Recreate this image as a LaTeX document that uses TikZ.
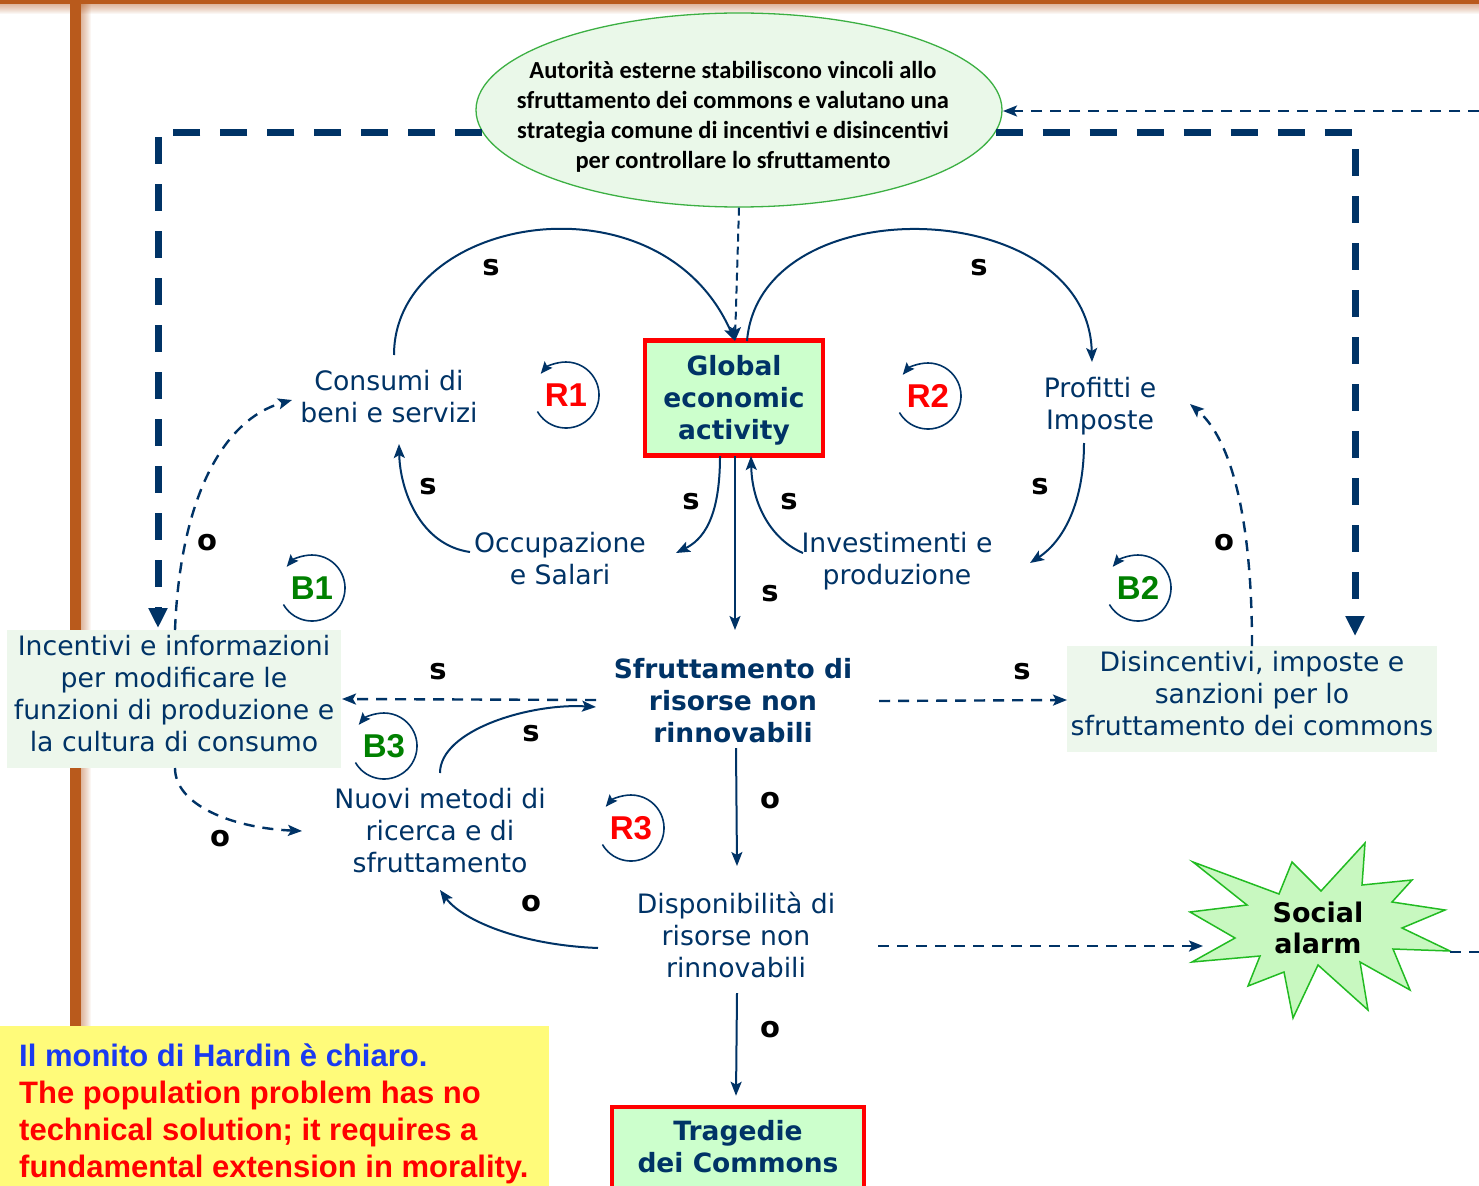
\documentclass[tikz,border=0pt]{standalone}
\usepackage{fontspec}
\setmainfont{DejaVu Sans}
\newfontfamily\ellfont{Carlito}
\newfontfamily\arialfont{Liberation Sans}
\usetikzlibrary{arrows.meta,shapes.geometric}

\definecolor{navy}{HTML}{003366}
\definecolor{barcol}{HTML}{B95A1C}
\definecolor{boxgreen}{HTML}{CCFFCC}
\definecolor{palegreen}{HTML}{EDF7EC}
\definecolor{ellfill}{HTML}{EAF8E9}
\definecolor{ellline}{HTML}{3CB043}
\definecolor{loopgreen}{HTML}{008000}
\definecolor{starfill}{HTML}{C8F8C0}
\definecolor{starline}{HTML}{22BB22}
\definecolor{notebg}{HTML}{FFFB7A}
\definecolor{noteblue}{HTML}{1A3AF0}

\tikzset{
  lbl/.style={text=navy, align=center, inner sep=0pt, font=\fontsize{26.7}{32}\selectfont},
  blbl/.style={text=navy, align=center, inner sep=0pt, font=\fontsize{26.5}{32}\selectfont\bfseries},
  pol/.style={inner sep=0pt, text=black, font=\fontsize{29}{29}\selectfont\bfseries},
  loopname/.style={inner sep=0pt, font=\arialfont\bfseries\fontsize{33}{33}\selectfont},
  tip/.style={-{Stealth[length=14pt,width=11pt,inset=3pt]}},
  conn/.style={draw=navy, line width=2pt, tip},
  dconn/.style={draw=navy, line width=2.4pt, dash pattern=on 11pt off 8pt, tip},
  bigdash/.style={draw=navy, line width=7pt, dash pattern=on 27pt off 20pt,
    -{Triangle[length=20pt,width=18pt]}},
  redbox/.style={draw=red, line width=4.5pt, fill=boxgreen},
  greybox/.style={fill=palegreen, inner sep=0pt},
}

% loop marker: name, centre, text, colour
\newcommand\loopmark[4]{%
  \node[loopname, text=#4] (#1) at (#2) {#3};
  \draw[navy, line width=1.6pt, -{Stealth[length=12pt,width=10pt,inset=2pt]}]
    ([shift={(210:33pt)}]#1.center) arc[start angle=210, end angle=500, radius=33pt];
}

\begin{document}
\begin{tikzpicture}[x=1pt,y=-1pt]
\useasboundingbox (0,0) rectangle (1479,1185);
\clip (0,0) rectangle (1479,1185);
\fill[white] (0,0) rectangle (1479,1185);

% frame bars with soft shadow
\foreach \i in {1,...,10}{
  \fill[barcol, opacity=0.05] (0,4) rectangle (1479,4+\i);
  \fill[barcol, opacity=0.05] (81,4) rectangle (81+\i,1026);
}
\fill[barcol] (0,0) rectangle (1479,4);
\fill[barcol] (70,0) rectangle (81,1030);

% top ellipse
\node[ellipse, draw=ellline, line width=1.3pt, fill=ellfill,
      minimum width=526pt, minimum height=194pt] (ell) at (739,110) {};
\node[inner sep=0pt, align=center, font=\ellfont\bfseries\fontsize{24.5}{30}\selectfont] (elltxt) at (733,116.5)
  {Autorità esterne stabiliscono vincoli allo\\sfruttamento dei commons e valutano una\\strategia comune di incentivi e disincentivi\\per controllare lo sfruttamento};

% central box
\node[redbox, minimum width=178pt, minimum height=115pt] (gea) at (734,398) {};
\node[blbl] at (734,400.5) {Global\\economic\\activity};

% variable labels
\node[lbl] (cons) at (389,397) {Consumi di\\beni e servizi};
\node[lbl] (prof) at (1100,406) {Profitti e\\Imposte};
\node[lbl] (occ) at (560,558.5) {Occupazione\\e Salari};
\node[lbl] (inv) at (897,561.5) {Investimenti e\\produzione};
\node[blbl] (sfr) at (733,701) {Sfruttamento di\\risorse non\\rinnovabili};
\node[lbl] (disp) at (736,935) {Disponibilità di\\risorse non\\rinnovabili};
\node[lbl] (nuovi) at (440,831) {Nuovi metodi di\\ricerca e di\\sfruttamento};

\node[greybox, minimum width=334pt, minimum height=138pt] (inc) at (174,699) {};
\node[lbl] at (174,694) {Incentivi e informazioni\\per modificare le\\funzioni di produzione e\\la cultura di consumo};
\node[greybox, minimum width=370pt, minimum height=106pt] (dis) at (1252,699) {};
\node[lbl] at (1252,694) {Disincentivi, imposte e\\sanzioni per lo\\sfruttamento dei commons};

\node[redbox, minimum width=252pt, minimum height=100pt] (trag) at (738,1157) {};
\node[blbl] at (738,1146.5) {Tragedie\\dei Commons};

% social alarm burst
\draw[starline, line width=1.5pt, fill=starfill]
  (1193,862) -- (1279,894) -- (1292,862) -- (1321,891) -- (1365,843) -- (1362,885)
  -- (1412,880) -- (1392,902) -- (1445,910) -- (1402,928) -- (1450,951) -- (1393,949)
  -- (1410,990) -- (1360,962) -- (1368,1010) -- (1318,965) -- (1293,1018) -- (1284,972)
  -- (1248,986) -- (1260,956) -- (1192,962) -- (1235,938) -- (1190,912) -- (1247,905) -- cycle;
\node[inner sep=0pt, align=center, text=black, font=\fontsize{27}{31}\selectfont\bfseries] (soc) at (1318,928) {Social\\alarm};

% external authority links
\draw[bigdash] (ell.185) -| ([shift={(-16,-71)}]inc.center);
\draw[bigdash] (ell.-5) -| ([shift={(103,-63)}]dis.center);
\coordinate (rin) at (1479,111);
\draw[dconn] (rin) -- ([shift={(264,1)}]ell.center);
\draw[draw=navy, line width=2pt, dash pattern=on 8pt off 5pt, tip] (ell.south) -- ([shift={(1,-57)}]gea.center);

% reinforcing loops R1, R2
\draw[conn] ([shift={(5,-42)}]cons.center) .. controls (394,215) and (660,170) .. ([shift={(1,-57)}]gea.center);
\draw[conn] ([shift={(13,-57)}]gea.center) .. controls (760,185) and (1088,195) .. ([shift={(-8,-44)}]prof.center);
\draw[conn] ([shift={(-14,58)}]gea.center) .. controls (720,520) and (702,540) .. ([shift={(116,-5.5)}]occ.center);
\draw[conn] ([shift={(-94,-8.5)}]inv.center) .. controls (772,540) and (752,505) .. ([shift={(17,58)}]gea.center);
\draw[conn] ([shift={(-90,-6.5)}]occ.center) .. controls (420,545) and (400,490) .. ([shift={(10,47)}]cons.center);
\draw[conn] ([shift={(-16,37)}]prof.center) .. controls (1084,500) and (1065,540) .. ([shift={(133,1.5)}]inv.center);

% main chain
\draw[conn] ([shift={(1,58)}]gea.center) -- ([shift={(2,-71)}]sfr.center);
\draw[conn] ([shift={(3,47)}]sfr.center) -- ([shift={(1,-69)}]disp.center);
\draw[conn] ([shift={(1,58)}]disp.center) -- ([shift={(-2,-9)}]trag.north);

% R3
\draw[conn] ([shift={(-138,13)}]disp.center) .. controls (520,945) and (462,920) .. ([shift={(0,59)}]nuovi.center);
\draw[conn] ([shift={(0,-58)}]nuovi.center) .. controls (440,730) and (530,703) .. ([shift={(-137,6)}]sfr.center);

% policy links
\draw[dconn] ([shift={(-137,-1)}]sfr.center) -- ([shift={(168,0)}]inc.center);
\draw[dconn] ([shift={(146,0)}]sfr.center) -- ([shift={(-185,1)}]dis.center);
\draw[dconn] ([shift={(1,-69)}]inc.center) .. controls (180,500) and (222,420) .. ([shift={(-97,3)}]cons.center);
\draw[dconn] ([shift={(1,69)}]inc.center) .. controls (175,805) and (232,828) .. ([shift={(-138,0)}]nuovi.center);
\draw[dconn] ([shift={(0,-53)}]dis.center) .. controls (1252,520) and (1232,440) .. ([shift={(90,-2)}]prof.center);
\draw[dconn] ([shift={(142,11)}]disp.center) -- ([shift={(-115,18)}]soc.center);
\coordinate (redge) at (1479,952);
\draw[draw=navy, line width=2.4pt, dash pattern=on 11pt off 8pt] ([shift={(132,24)}]soc.center) -- (redge);

% polarities
\node[pol] at (491,268) {s};
\node[pol] at (979,268) {s};
\node[pol] at (428,487) {s};
\node[pol] at (691,502) {s};
\node[pol] at (789,502) {s};
\node[pol] at (1040,487) {s};
\node[pol] at (770,594) {s};
\node[pol] at (438,672) {s};
\node[pol] at (1022,672) {s};
\node[pol] at (531,734) {s};
\node[pol] at (207,543) {o};
\node[pol] at (1224,543) {o};
\node[pol] at (770,801) {o};
\node[pol] at (220,839) {o};
\node[pol] at (531,904) {o};
\node[pol] at (770,1030) {o};

% loop markers
\loopmark{r1}{566,395}{R1}{red}
\loopmark{r2}{928,396}{R2}{red}
\loopmark{r3}{631,828}{R3}{red}
\loopmark{b1}{312,588}{B1}{loopgreen}
\loopmark{b2}{1138,588}{B2}{loopgreen}
\loopmark{b3}{384,746}{B3}{loopgreen}

% note
\fill[notebg] (0,1026) rectangle (549,1190);
\node[anchor=north west, inner sep=0pt, align=left, font=\arialfont\bfseries\fontsize{31}{37}\selectfont] (note) at (19,1044)
  {\textcolor{noteblue}{Il monito di Hardin è chiaro.}\\
   \textcolor{red}{The population problem has no}\\
   \textcolor{red}{technical solution; it requires a}\\
   \textcolor{red}{fundamental extension in morality.}};
\end{tikzpicture}
\end{document}
